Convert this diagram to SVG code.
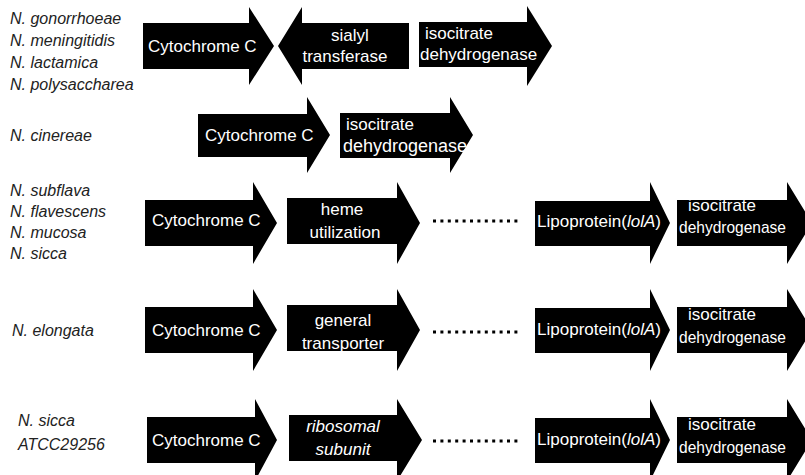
<svg xmlns="http://www.w3.org/2000/svg" width="805" height="475" viewBox="0 0 805 475">
<style>
.a{fill:#000}
.t{fill:#fff;font-family:"Liberation Sans",Arial,sans-serif;font-size:17px}
.m{text-anchor:middle}
.i{font-style:italic}
.lb{fill:#222;font-family:"Liberation Sans",Arial,sans-serif;font-size:16px;font-style:italic}
.dots{stroke:#000;stroke-width:3;stroke-dasharray:3 4.4;fill:none}
</style>
<rect width="805" height="475" fill="#fff"/>
<g id="labels">
<text class="lb" x="10" y="24">N. gonorrhoeae</text>
<text class="lb" x="10" y="46">N. meningitidis</text>
<text class="lb" x="10" y="68">N. lactamica</text>
<text class="lb" x="10" y="90">N. polysaccharea</text>
<text class="lb" x="10" y="141">N. cinereae</text>
<text class="lb" x="10" y="196">N. subflava</text>
<text class="lb" x="10" y="217">N. flavescens</text>
<text class="lb" x="10" y="238">N. mucosa</text>
<text class="lb" x="10" y="259">N. sicca</text>
<text class="lb" x="12" y="336">N. elongata</text>
<text class="lb" x="18" y="426">N. sicca</text>
<text class="lb" x="18" y="450">ATCC29256</text>
</g>
<g id="connectors">
<path class="dots" d="M433 221H521"/>
<path class="dots" d="M433 332H521"/>
<path class="dots" d="M433 441H521"/>
</g>
<g id="r1-cyt"><path class="a" d="M143 23H249V7L274 46L249 85V69H143Z"/><text class="t" x="148" y="52">Cytochrome C</text></g>
<g id="r1-sialyl"><path class="a" d="M409 23H302V7L278 46L302 85V69H409Z"/><text class="t m" x="350" y="41">sialyl</text><text class="t m" x="345" y="62">transferase</text></g>
<g id="r1-iso"><path class="a" d="M419 22H527V6L552 46L527 86V67H419Z"/><text class="t" x="425" y="39">isocitrate</text><text class="t" x="420" y="60">dehydrogenase</text></g>
<g id="r2-cyt"><path class="a" d="M198 114H307V97L330 135L307 173V157H198Z"/><text class="t" x="205" y="141">Cytochrome C</text></g>
<g id="r2-iso"><path class="a" d="M340 113H450V97L473 135L450 173V158H340Z"/><text class="t" x="346" y="130">isocitrate</text><text class="t" x="343" y="152" style="font-size:18px">dehydrogenase</text></g>
<g id="r3-cyt"><path class="a" d="M145 200H253V182L277 223L253 264V246H145Z"/><text class="t" x="152" y="226">Cytochrome C</text></g>
<g id="r3-heme"><path class="a" d="M287 198H397V182L420 223L397 264V244H287Z"/><text class="t m" x="342" y="215">heme</text><text class="t m" x="345" y="238">utilization</text></g>
<g id="r3-lipo"><path class="a" d="M535 201H650V182L670 223L650 264V246H535Z"/><text class="t" x="537" y="227" textLength="124" lengthAdjust="spacingAndGlyphs">Lipoprotein(<tspan class="i">lolA</tspan>)</text></g>
<g id="r3-iso"><path class="a" d="M677 200H787V182L812 223L787 264V246H677Z"/><text class="t m" x="722" y="211">isocitrate</text><text class="t" x="679" y="233" textLength="107" lengthAdjust="spacingAndGlyphs">dehydrogenase</text></g>
<g id="r4-cyt"><path class="a" d="M145 307H253V289L277 330L253 371V353H145Z"/><text class="t" x="152" y="336">Cytochrome C</text></g>
<g id="r4-gen"><path class="a" d="M287 305H397V289L420 330L397 371V351H287Z"/><text class="t m" x="343" y="326">general</text><text class="t m" x="343" y="349">transporter</text></g>
<g id="r4-lipo"><path class="a" d="M535 308H650V289L670 330L650 371V353H535Z"/><text class="t" x="537" y="335" textLength="124" lengthAdjust="spacingAndGlyphs">Lipoprotein(<tspan class="i">lolA</tspan>)</text></g>
<g id="r4-iso"><path class="a" d="M677 307H787V289L812 330L787 371V353H677Z"/><text class="t m" x="722" y="320">isocitrate</text><text class="t" x="679" y="343" textLength="107" lengthAdjust="spacingAndGlyphs">dehydrogenase</text></g>
<g id="r5-cyt"><path class="a" d="M147 417H255V399L277 440L255 481V463H147Z"/><text class="t" x="152" y="446">Cytochrome C</text></g>
<g id="r5-ribo"><path class="a" d="M289 415H397V399L422 440L397 481V461H289Z"/><text class="t m i" x="343" y="432">ribosomal</text><text class="t m i" x="343" y="455">subunit</text></g>
<g id="r5-lipo"><path class="a" d="M535 418H650V399L670 440L650 481V463H535Z"/><text class="t" x="537" y="445" textLength="124" lengthAdjust="spacingAndGlyphs">Lipoprotein(<tspan class="i">lolA</tspan>)</text></g>
<g id="r5-iso"><path class="a" d="M677 417H787V399L812 440L787 481V463H677Z"/><text class="t m" x="722" y="430">isocitrate</text><text class="t" x="679" y="453" textLength="107" lengthAdjust="spacingAndGlyphs">dehydrogenase</text></g>
</svg>
